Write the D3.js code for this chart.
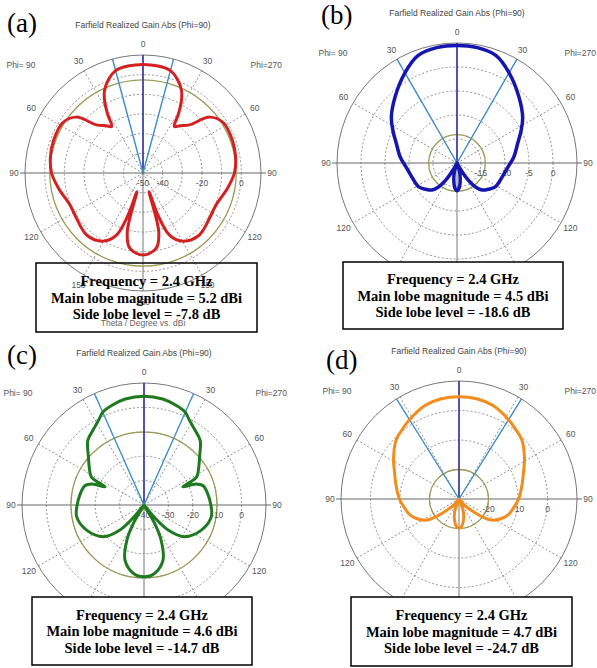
<!DOCTYPE html>
<html>
<head>
<meta charset="utf-8">
<script src="https://cdn.jsdelivr.net/npm/d3@7"></script>
<style>
  body { margin: 0; background: #fff; }
  svg { display: block; }
</style>
</head>
<body>
<svg id="chart" width="597" height="668"></svg>
<script>
// theta in degrees (0 = top), realized gain in dBi
const thetaA = [0, 8, 15, 20, 25, 28, 31, 34, 38, 44, 50, 58, 70, 80, 90, 100, 114, 122, 138, 150, 157, 160.5, 162, 165, 170, 180];
const gainA  = [5.2, 4.9, 3.9, 0.9, -3.7, -8.4, -15, -21.5, -19.5, -16, -5.8, -1.8, -1.6, -2.2, -3.5, -6.3, -9.5, -9.3, -7.4, -10, -15.8, -27.4, -40, -19.1, -11.2, -8.3];

const thetaB = [0, 10, 20, 30, 43, 55, 63, 72, 84, 94, 106, 122, 130, 137, 142, 147, 152, 157, 163, 170, 175, 180];
const gainB  = [4.5, 4.4, 3.8, 1.7, -1.1, -3.3, -5, -6.7, -8.1, -9.3, -10.1, -10.6, -11.5, -12.3, -13.6, -16, -19, -20, -18.2, -16.2, -14.8, -14.2];

const thetaC = [0, 10, 18, 24, 28, 34, 41, 49, 56, 62, 65, 68, 72, 81, 90, 100, 114, 128, 136, 140, 145, 150, 154, 161, 171, 180];
const gainC  = [4.6, 4.1, 2.9, 1.6, -0.5, -2.8, -4.9, -9.8, -13, -15.6, -22.4, -17, -14.5, -13.4, -12.6, -12, -14.4, -18.9, -25.8, -34, -40, -31.3, -24, -16.1, -11.7, -10.6];

const thetaD = [0, 10, 20, 32, 40, 47, 59, 66, 78, 90, 100, 108, 116, 123, 128, 133, 140, 150, 160, 165, 170, 175, 180];
const gainD  = [4.7, 4.5, 3.7, 1.7, 0.3, -0.8, -4.1, -6, -8.2, -9.8, -11.4, -12.5, -14.5, -16.9, -20.5, -24.5, -27.5, -30, -26, -23.8, -22, -20.6, -20.1];

const letters = ["(a)", "(b)", "(c)", "(d)"];
const frequency = 2.4;
const mainLobe = [5.2, 4.5, 4.6, 4.7];
const sideLobe = [-7.8, -18.6, -14.7, -24.7];
const beamHalf = [15, 30, 24, 32];
const dbRange = [[-50, 10], [-20, 5], [-40, 10], [-30, 10]];
const ringTicks = [[-40, -30, -20, -10, 0], [-15, -10, -5, 0], [-30, -20, -10, 0], [-20, -10, 0]];
const ringLabels = [[-50, -40, -20, 0], [-15, -10, -5, 0], [-40, -30, -20, -10, 0], [-20, -10, 0]];
const angleTicks = [30, 60, 90, 120, 150];

const thetas = [thetaA, thetaB, thetaC, thetaD];
const gains = [gainA, gainB, gainC, gainD];

// layout of each sub plot
const panels = [
  {cx: 143, cy: 173, R: 118, color: "#d42020", width: 3, letterX: 7, letterY: 32, box: [36, 263, 221, 69], fill: "none"},
  {cx: 457, cy: 163, R: 120, color: "#1515b0", width: 3.5, letterX: 321, letterY: 24, box: [343, 262, 220, 67], fill: "#fff"},
  {cx: 144, cy: 505, R: 122, color: "#1f7a1f", width: 3, letterX: 7, letterY: 364, box: [32, 597, 220, 68], fill: "#fff"},
  {cx: 459, cy: 499, R: 118, color: "#f28c1c", width: 3, letterX: 326, letterY: 369, box: [351, 597, 221, 69], fill: "#fff"}
];

const svg = d3.select("#chart");
const rad = d => d * Math.PI / 180;
const small = "'Liberation Sans', Arial, sans-serif";
const serif = "'Liberation Serif', 'Times New Roman', serif";

panels.forEach((p, k) => {
  const r = d3.scaleLinear().domain(dbRange[k]).range([0, p.R]).clamp(true);
  const g = svg.append("g").attr("transform", "translate(" + p.cx + "," + p.cy + ")");
  const open = p.fill === "none";   // only (a) shows what lies under its box

  // dashed rings
  g.selectAll("circle.ring")
    .data(ringTicks[k])
    .enter().append("circle")
    .attr("class", "ring")
    .attr("r", d => r(d))
    .attr("fill", "none")
    .attr("stroke", "#666")
    .attr("stroke-width", 0.7)
    .attr("stroke-dasharray", "2,2");

  // dashed spokes
  const spokes = [];
  angleTicks.filter(a => a !== 90).forEach(a => { spokes.push(a); spokes.push(-a); });
  g.selectAll("line.spoke")
    .data(spokes)
    .enter().append("line")
    .attr("x1", 0).attr("y1", 0)
    .attr("x2", d => Math.sin(rad(d)) * p.R)
    .attr("y2", d => -Math.cos(rad(d)) * p.R)
    .attr("stroke", "#666")
    .attr("stroke-width", 0.7)
    .attr("stroke-dasharray", "2,2");

  g.append("circle").attr("r", p.R).attr("fill", "none").attr("stroke", "#777").attr("stroke-width", 1);
  g.append("line").attr("x1", -p.R - 5).attr("x2", p.R + 5).attr("y1", 0).attr("y2", 0)
    .attr("stroke", "#666").attr("stroke-width", 1);
  g.append("line").attr("x1", 0).attr("x2", 0).attr("y1", -p.R).attr("y2", p.R)
    .attr("stroke", "#777").attr("stroke-width", 1);

  // side lobe level circle
  g.append("circle")
    .attr("r", r(mainLobe[k] + sideLobe[k]))
    .attr("fill", "none")
    .attr("stroke", "#9a9a55")
    .attr("stroke-width", 1.3);

  // main lobe direction and 3 dB width
  g.append("line").attr("x1", 0).attr("y1", 0).attr("x2", 0).attr("y2", -p.R)
    .attr("stroke", "#1c1ca8").attr("stroke-width", 1.3);
  g.selectAll("line.beam")
    .data([-beamHalf[k], beamHalf[k]])
    .enter().append("line")
    .attr("x1", 0).attr("y1", 0)
    .attr("x2", d => Math.sin(rad(d)) * p.R)
    .attr("y2", d => -Math.cos(rad(d)) * p.R)
    .attr("stroke", "#3f8ec6")
    .attr("stroke-width", 1.4);

  // ring value labels
  g.selectAll("text.rl")
    .data(ringLabels[k])
    .enter().append("text")
    .attr("x", d => r(d))
    .attr("y", 13)
    .attr("text-anchor", "middle")
    .attr("font-family", small)
    .attr("font-size", 8.5)
    .attr("fill", "#555")
    .text(d => d);

  // angle labels (the lower ones sit under the white boxes of b, c, d)
  const ang = [0];
  angleTicks.forEach(a => { if (open || a < 150) { ang.push(a); ang.push(-a); } });
  if (open) ang.push(180);
  g.selectAll("text.al")
    .data(ang)
    .enter().append("text")
    .attr("x", d => Math.sin(rad(d)) * (p.R + 11))
    .attr("y", d => -Math.cos(rad(d)) * (p.R + 11))
    .attr("dy", "0.35em")
    .attr("text-anchor", "middle")
    .attr("font-family", small)
    .attr("font-size", 8.5)
    .attr("fill", "#555")
    .text(d => Math.abs(d));

  g.append("text").attr("x", -(p.R + 4)).attr("y", -p.R + 13).attr("text-anchor", "middle")
    .attr("font-family", small).attr("font-size", 8.5).attr("fill", "#555").text("Phi= 90");
  g.append("text").attr("x", Math.min(p.R + 21, 596 - p.cx)).attr("y", -p.R + 13).attr("text-anchor", "end")
    .attr("font-family", small).attr("font-size", 8.5).attr("fill", "#555").text("Phi=270");
  g.append("text").attr("x", 0).attr("y", -p.R - 27).attr("text-anchor", "middle")
    .attr("font-family", small).attr("font-size", 8.5).attr("fill", "#444")
    .text("Farfield Realized Gain Abs (Phi=90)");
  if (open) {
    g.append("text").attr("x", 0).attr("y", 153).attr("text-anchor", "middle")
      .attr("font-family", small).attr("font-size", 8.5).attr("fill", "#666")
      .text("Theta / Degree vs. dBi");
  }

  // pattern: phi=270 half on the right, phi=90 half on the left
  const th = thetas[k], gv = gains[k];
  const pts = th.map((t, i) => [t, gv[i]]);
  for (let i = th.length - 2; i > 0; i--) pts.push([360 - th[i], gv[i]]);

  const line = d3.lineRadial()
    .angle(d => rad(d[0]))
    .radius(d => r(d[1]))
    .curve(d3.curveCatmullRomClosed.alpha(0.5));

  g.append("path")
    .attr("d", line(pts))
    .attr("fill", "none")
    .attr("stroke", p.color)
    .attr("stroke-width", p.width)
    .attr("stroke-linejoin", "round");

  // letter
  svg.append("text")
    .attr("x", p.letterX).attr("y", p.letterY)
    .attr("font-family", serif)
    .attr("font-size", 27)
    .text(letters[k]);

  // info box
  const b = p.box;
  svg.append("rect")
    .attr("x", b[0]).attr("y", b[1]).attr("width", b[2]).attr("height", b[3])
    .attr("fill", p.fill)
    .attr("stroke", "#000")
    .attr("stroke-width", 1.5);
  const lines = [
    "Frequency = " + frequency + " GHz",
    "Main lobe magnitude = " + mainLobe[k] + " dBi",
    "Side lobe level = " + sideLobe[k] + " dB"
  ];
  svg.selectAll(null)
    .data(lines)
    .enter().append("text")
    .attr("x", b[0] + b[2] / 2)
    .attr("y", (d, i) => b[1] + b[3] / 2 + 5 + (i - 1) * 16.5)
    .attr("text-anchor", "middle")
    .attr("font-family", serif)
    .attr("font-weight", "bold")
    .attr("font-size", 14.5)
    .text(d => d);
});
</script>
</body>
</html>
